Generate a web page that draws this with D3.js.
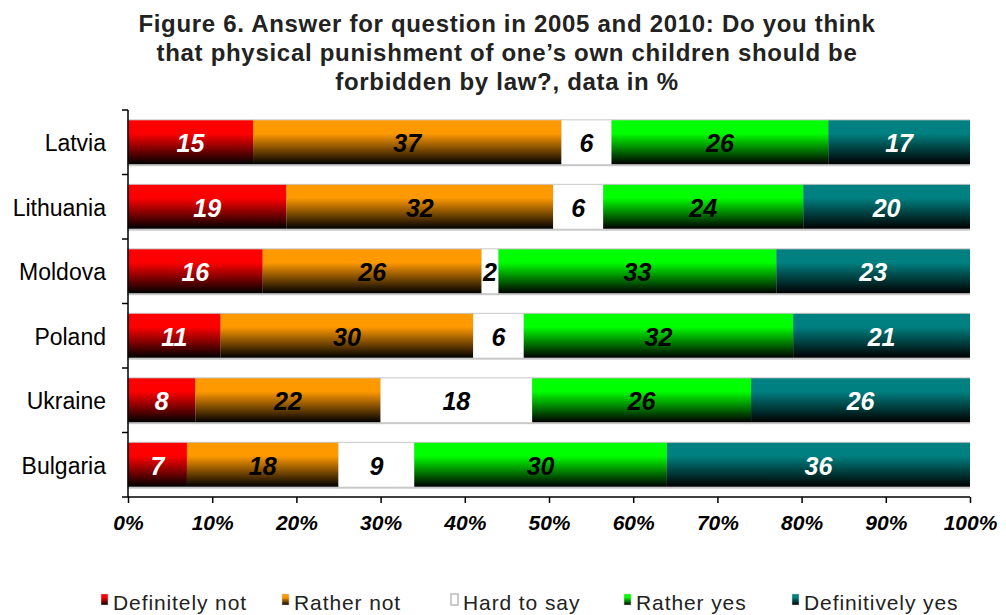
<!DOCTYPE html>
<html><head><meta charset="utf-8">
<script src="https://cdn.jsdelivr.net/npm/d3@7"></script>
<style>body{margin:0;background:#fff}svg{display:block}</style>
</head><body>
<svg id="c" width="1006" height="615"></svg>
<script>
const countries = ["Latvia","Lithuania","Moldova","Poland","Ukraine","Bulgaria"];
const seriesNames = ["Definitely not","Rather not","Hard to say","Rather yes","Definitively yes"];
const definitelyNot = [15,19,16,11,8,7];
const ratherNot = [37,32,26,30,22,18];
const hardToSay = [6,6,2,6,18,9];
const ratherYes = [26,24,33,32,26,30];
const definitivelyYes = [17,20,23,21,26,36];
const xTicks = [0,0.1,0.2,0.3,0.4,0.5,0.6,0.7,0.8,0.9,1];
const seriesColors = ["#ff0000","#ff9900","#ffffff","#00ff00","#008080"];
const labelColors = ["#fff","#000","#000","#000","#fff"];

(function(){
const FONT = "Liberation Sans, Arial, sans-serif";
const seriesVals = [definitelyNot,ratherNot,hardToSay,ratherYes,definitivelyYes];
const rows = countries.map((c,i)=>{const o={country:c};seriesNames.forEach((s,j)=>o[s]=seriesVals[j][i]);return o;});
const stack = d3.stack().keys(seriesNames).offset(d3.stackOffsetExpand)(rows);

const svg = d3.select("#c");
const defs = svg.append("defs");
seriesColors.forEach((col,i)=>{
  const g = defs.append("linearGradient").attr("id","g"+i).attr("x1",0).attr("y1",0).attr("x2",0).attr("y2",1);
  if(i===2){
    g.append("stop").attr("offset","0").attr("stop-color","#fff");
    g.append("stop").attr("offset","1").attr("stop-color","#fff");
  } else {
    g.append("stop").attr("offset","0").attr("stop-color",col);
    g.append("stop").attr("offset","0.3").attr("stop-color",col);
    g.append("stop").attr("offset","1").attr("stop-color","#000");
  }
});

const pL=128,pR=970,pT=110,pB=497;
const x = d3.scaleLinear().domain([0,1]).range([pL,pR]);
const y = d3.scaleBand().domain(countries).range([pT,pB]).paddingInner(0.32).paddingOuter(0.16);

const title = ["Figure 6. Answer for question in 2005 and 2010: Do you think",
  "that physical punishment of one’s own children should be",
  "forbidden by law?, data in %"];
svg.append("g").selectAll("text").data(title).join("text")
  .attr("x",507).attr("y",(d,i)=>32+i*29).attr("text-anchor","middle")
  .attr("font-family",FONT).attr("font-weight","bold").attr("letter-spacing",0.7)
  .attr("font-size",24).attr("fill","#222").text(d=>d);

const gBars = svg.append("g");
stack.forEach((s,si)=>{
  gBars.append("g").selectAll("rect").data(s).join("rect")
    .attr("x",d=>x(d[0])-1).attr("y",d=>y(d.data.country)-1)
    .attr("width",d=>x(d[1])-x(d[0])+1).attr("height",y.bandwidth()+3)
    .attr("fill","#c8c8c8");
});
stack.forEach((s,si)=>{
  gBars.append("g").selectAll("rect").data(s).join("rect")
    .attr("x",d=>x(d[0])).attr("y",d=>y(d.data.country))
    .attr("width",d=>x(d[1])-x(d[0])).attr("height",y.bandwidth())
    .attr("fill","url(#g"+si+")");
});
stack.forEach((s,si)=>{
  gBars.append("g").selectAll("text").data(s).join("text")
    .attr("x",d=>(x(d[0])+x(d[1]))/2).attr("y",d=>y(d.data.country)+y.bandwidth()/2+10)
    .attr("text-anchor","middle").attr("font-family",FONT)
    .attr("font-weight","bold").attr("font-style","italic").attr("font-size",25)
    .attr("fill",labelColors[si]).text(d=>d.data[s.key]);
});

const yAxisG = svg.append("g");
yAxisG.append("line").attr("x1",pL).attr("x2",pL).attr("y1",pT).attr("y2",pB).attr("stroke","#000").attr("stroke-width",1.5);
const step = (pB-pT)/countries.length;
yAxisG.selectAll("line.t").data(d3.range(countries.length+1)).join("line").attr("class","t")
  .attr("x1",pL-6).attr("x2",pL).attr("y1",d=>pT+d*step).attr("y2",d=>pT+d*step).attr("stroke","#000").attr("stroke-width",1.5);
yAxisG.selectAll("text").data(countries).join("text")
  .attr("x",106).attr("y",d=>y(d)+y.bandwidth()/2+9).attr("text-anchor","end")
  .attr("font-family",FONT).attr("font-size",23).attr("fill","#000").text(d=>d);

const xAxisG = svg.append("g").attr("transform",`translate(0,${pB})`)
  .call(d3.axisBottom(x).tickValues(xTicks).tickFormat(d3.format(".0%")).tickSize(6));
xAxisG.select(".domain").attr("stroke","#000").attr("stroke-width",1.5).attr("d",`M${pL},0H${pR}`);
xAxisG.selectAll(".tick line").attr("stroke","#000").attr("stroke-width",1.5);
xAxisG.selectAll(".tick text").attr("y",33).attr("dy",0)
  .attr("font-family",FONT).attr("font-weight","bold").attr("font-style","italic")
  .attr("font-size",21).attr("fill","#000");

const legX = [113,294,463,636,804];
const leg = svg.append("g").selectAll("g").data(seriesNames).join("g")
  .attr("transform",(d,i)=>`translate(${legX[i]},0)`);
leg.append("rect").attr("x",-12).attr("y",594).attr("width",7).attr("height",11)
  .attr("fill",(d,i)=>"url(#g"+i+")").attr("stroke",(d,i)=>i===2?"#bbb":"#ccc").attr("stroke-width",(d,i)=>i===2?1.5:0.5);
leg.append("text").attr("x",0).attr("y",610).attr("font-family",FONT).attr("letter-spacing",0.9)
  .attr("font-size",21).attr("fill","#222").text(d=>d);
})();
</script>
</body></html>
